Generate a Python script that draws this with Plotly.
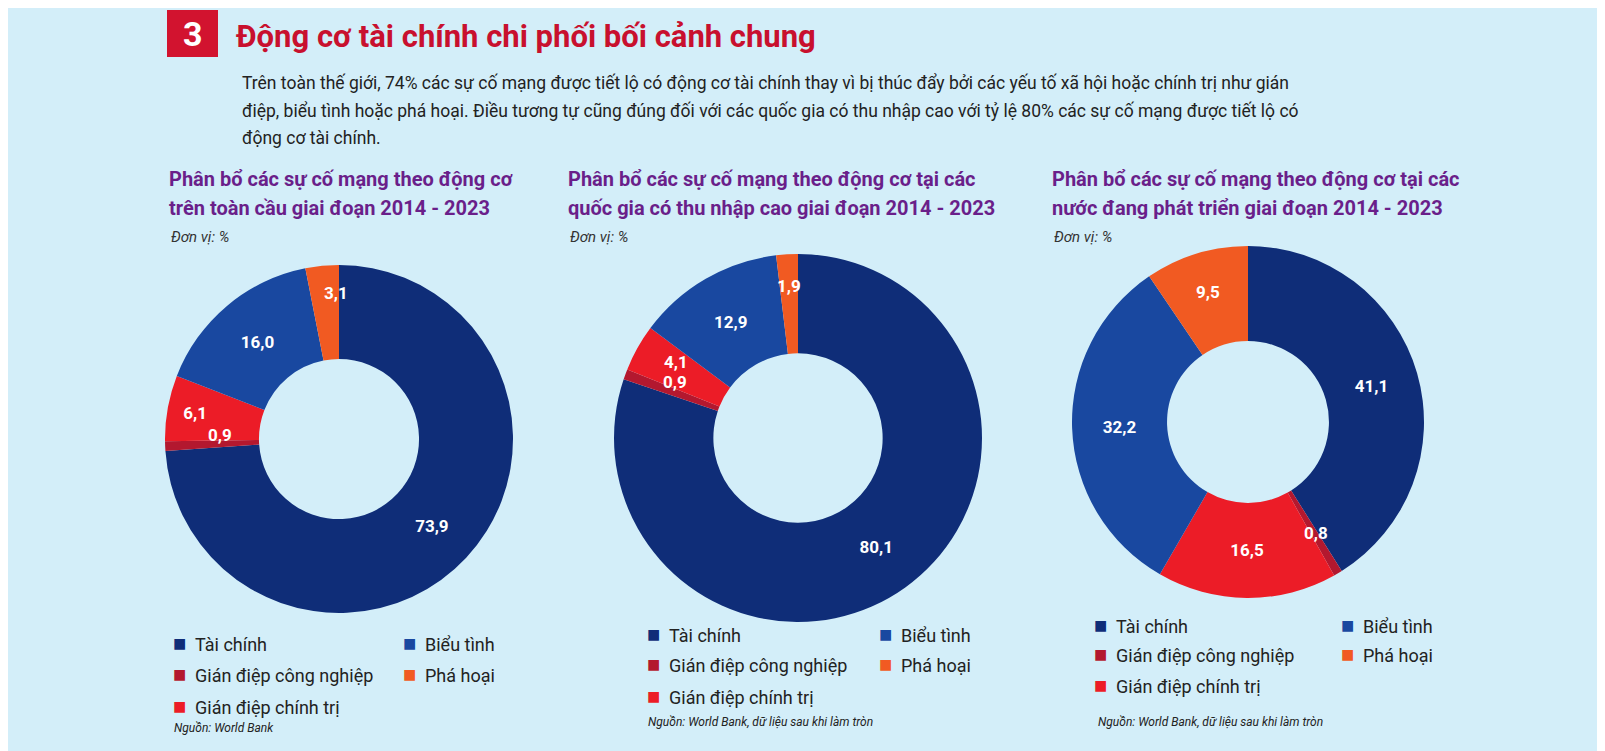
import plotly.graph_objects as go

categories = ["Tài chính", "Gián điệp công nghiệp", "Gián điệp chính trị", "Biểu tình", "Phá hoại"]
colors = ["#0f2d78", "#b3182f", "#ec1c27", "#1948a0", "#f15a22"]
global_vals = [73.9, 0.9, 6.1, 16.0, 3.1]
high_income_vals = [80.1, 0.9, 4.1, 12.9, 1.9]
developing_vals = [41.1, 0.8, 16.5, 32.2, 9.5]
small_labels = [
    [False, True, False, False, True],
    [False, True, True, False, True],
    [False, True, False, False, False],
]

W, H = 1605, 751
def px(x): return x / W
def py(y): return 1 - y / H

fig = go.Figure()
donuts = [
    (global_vals, (331, 431, 174)),
    (high_income_vals, (790, 430, 184)),
    (developing_vals, (1240, 414, 176)),
]
for i, (vals, (cx, cy, r)) in enumerate(donuts):
    txt = ["" if small_labels[i][k] else "<b>" + f"{v:.1f}".replace(".", ",") + "</b>" for k, v in enumerate(vals)]
    fig.add_trace(go.Pie(
        values=vals, labels=categories, text=txt, textinfo="text",
        textposition="inside", insidetextorientation="horizontal",
        textfont=dict(family="Roboto", size=17, color="white"),
        marker=dict(colors=colors, line=dict(width=0)),
        hole=0.46, sort=False, direction="clockwise", rotation=0,
        showlegend=False, hoverinfo="label+value",
        domain=dict(x=[px(cx - r), px(cx + r)], y=[py(cy + r), py(cy - r)]),
    ))

ann = []
def T(x, y, s, size=16, color="#222", bold=False, italic=False, anchor="left", family="Roboto"):
    if bold: s = f"<b>{s}</b>"
    if italic: s = f"<i>{s}</i>"
    ann.append(dict(x=px(x), y=py(y), xref="paper", yref="paper", text=s, showarrow=False,
                    xanchor=anchor, yanchor="middle", font=dict(size=size, color=color, family=family)))

shapes = [dict(type="rect", xref="paper", yref="paper", x0=px(159), x1=px(210), y0=py(49), y1=py(2),
               fillcolor="#d2132f", line=dict(width=0))]
T(184.5, 26, "3", 34, "white", bold=True, anchor="center")
T(226, 28, "Động cơ tài chính chi phối bối cảnh chung", 31, "#c8102e", bold=True)
para = ["Trên toàn thế giới, 74% các sự cố mạng được tiết lộ có động cơ tài chính thay vì bị thúc đẩy bởi các yếu tố xã hội hoặc chính trị như gián",
        "điệp, biểu tình hoặc phá hoại. Điều tương tự cũng đúng đối với các quốc gia có thu nhập cao với tỷ lệ 80% các sự cố mạng được tiết lộ có",
        "động cơ tài chính."]
for k, l in enumerate(para):
    T(232, 75 + k * 27.5, l, 17.5, "#222")

titles = [("Phân bổ các sự cố mạng theo động cơ", "trên toàn cầu giai đoạn 2014 - 2023"),
          ("Phân bổ các sự cố mạng theo động cơ tại các", "quốc gia có thu nhập cao giai đoạn 2014 - 2023"),
          ("Phân bổ các sự cố mạng theo động cơ tại các", "nước đang phát triển giai đoạn 2014 - 2023")]
tx = [159, 558, 1042]
for x, (a, b) in zip(tx, titles):
    T(x, 171, a, 20, "#6a1f8a", bold=True)
    T(x, 200, b, 20, "#6a1f8a", bold=True)
    T(x + 2, 229, "Đơn vị: %", 15, "#333", italic=True)

smalls = [(212, 427, "0,9"), (328, 285, "3,1"), (667, 374, "0,9"), (668, 354, "4,1"),
          (781, 278, "1,9"), (1308, 525, "0,8")]
for x, y, s in smalls:
    T(x, y, s, 17, "white", bold=True, anchor="center")

leg = [((171, 401), (635, 666, 698)), ((645, 877), (626, 656, 688)), ((1092, 1339), (617, 646, 677))]
order = [(0, 0, 0), (3, 1, 0), (1, 0, 1), (4, 1, 1), (2, 0, 2)]
for (c1, c2), rows in leg:
    for idx, col, row in order:
        x = c1 if col == 0 else c2
        T(x, rows[row], "■", 22, colors[idx], anchor="center")
        T(x + 14, rows[row] + 1, categories[idx], 18, "#222")

T(164, 720, "Nguồn: World Bank", 12, "#222", italic=True)
T(638, 714, "Nguồn: World Bank, dữ liệu sau khi làm tròn", 12, "#222", italic=True)
T(1088, 714, "Nguồn: World Bank, dữ liệu sau khi làm tròn", 12, "#222", italic=True)

fig.update_layout(width=W, height=H, margin=dict(l=0, r=0, t=0, b=0),
                  paper_bgcolor="#d3eef9", plot_bgcolor="#d3eef9",
                  annotations=ann, shapes=shapes, uniformtext=dict(minsize=14, mode="show"))
fig.write_html("out.html")
